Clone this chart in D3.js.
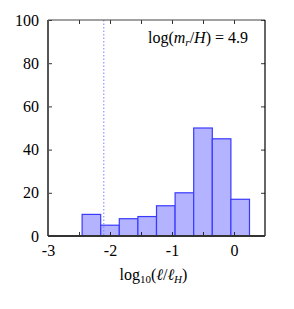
<!DOCTYPE html>
<html>
<head>
<meta charset="utf-8">
<script src="https://cdn.jsdelivr.net/npm/d3@7"></script>
<style>
  body { margin: 0; background: #fff; }
</style>
</head>
<body>
<div id="chart"></div>
<script>
// histogram of log10(l / l_H)
var binEdges = [-2.45, -2.15, -1.85, -1.55, -1.25, -0.95, -0.65, -0.35, -0.05, 0.25];
var counts = [10, 5, 8, 9, 14, 20, 50, 45, 17];
var markerX = -2.1;
var xTicks = [-3, -2.5, -2, -1.5, -1, -0.5, 0];
var xLabels = [-3, -2, -1, 0];
var yTicks = [0, 20, 40, 60, 80, 100];

var serif = "'Liberation Serif', 'Times New Roman', serif";

var margin = {top: 20, right: 29, bottom: 73, left: 48},
    width = 294 - margin.left - margin.right,
    height = 309 - margin.top - margin.bottom;

var x = d3.scaleLinear().domain([-3, 0.5]).range([0, width]);
var y = d3.scaleLinear().domain([0, 100]).range([height, 0]);

var svg = d3.select("#chart").append("svg")
    .attr("width", 294)
    .attr("height", 309)
  .append("g")
    .attr("transform", "translate(" + margin.left + "," + margin.top + ")");

var bins = counts.map(function(c, i) { return {x0: binEdges[i], x1: binEdges[i + 1], n: c}; });

svg.selectAll("rect.bar")
    .data(bins)
  .enter().append("rect")
    .attr("class", "bar")
    .attr("x", function(d) { return x(d.x0); })
    .attr("y", function(d) { return y(d.n); })
    .attr("width", function(d) { return x(d.x1) - x(d.x0); })
    .attr("height", function(d) { return y(0) - y(d.n); })
    .style("fill", "#b3b3ff")
    .style("stroke", "#3a3aff")
    .style("stroke-width", 1.2);

svg.append("line")
    .attr("x1", x(markerX)).attr("x2", x(markerX))
    .attr("y1", 0).attr("y2", height)
    .style("stroke", "#8080ff")
    .style("stroke-width", 1)
    .style("stroke-dasharray", "1.5,2");

// axes: ticks pointing inward on all four sides
var xBottom = d3.axisBottom(x).tickValues(xTicks).tickSizeInner(-4).tickSizeOuter(0)
    .tickFormat(function(d) { return xLabels.indexOf(d) >= 0 ? d : ""; }).tickPadding(9);
var xTop = d3.axisTop(x).tickValues(xTicks).tickSizeInner(-4).tickSizeOuter(0).tickFormat("");
var yLeft = d3.axisLeft(y).tickValues(yTicks).tickSizeInner(-4).tickSizeOuter(0).tickPadding(9);
var yRight = d3.axisRight(y).tickValues(yTicks).tickSizeInner(-4).tickSizeOuter(0).tickFormat("");

svg.append("g").attr("transform", "translate(0," + height + ")").call(xBottom);
svg.append("g").call(xTop);
svg.append("g").call(yLeft);
svg.append("g").attr("transform", "translate(" + width + ",0)").call(yRight);

svg.selectAll(".domain").remove();
svg.selectAll(".tick line").style("stroke", "#000").style("stroke-width", 0.8);
svg.selectAll(".tick text")
    .style("font-family", serif)
    .style("font-size", "16px")
    .text(function(d) { var t = d3.select(this).text(); return t.replace("−", "-"); });

// frame
svg.append("line").attr("x1", 0).attr("x2", width).attr("y1", 0).attr("y2", 0)
    .style("stroke", "#444").style("stroke-width", 1.2);
svg.append("line").attr("x1", width).attr("x2", width).attr("y1", 0).attr("y2", height)
    .style("stroke", "#000").style("stroke-width", 1.2);
svg.append("line").attr("x1", 0).attr("x2", 0).attr("y1", 0).attr("y2", height)
    .style("stroke", "#555").style("stroke-width", 2);
svg.append("line").attr("x1", 0).attr("x2", width).attr("y1", height).attr("y2", height)
    .style("stroke", "#333").style("stroke-width", 2);

// annotation
var ann = svg.append("text")
    .attr("x", width - 17).attr("y", 22.5)
    .attr("text-anchor", "end")
    .style("font-family", serif)
    .style("font-size", "16px");
ann.append("tspan").text("log(");
ann.append("tspan").style("font-style", "italic").text("m");
ann.append("tspan").attr("dy", 3).style("font-size", "11px").style("font-style", "italic").text("r");
ann.append("tspan").attr("dy", -3).text("/");
ann.append("tspan").style("font-style", "italic").text("H");
ann.append("tspan").text(") = 4.9");

// x axis title
var xt = svg.append("text")
    .attr("x", x(-1.3)).attr("y", height + 44)
    .attr("text-anchor", "middle")
    .style("font-family", serif)
    .style("font-size", "16px");
xt.append("tspan").text("log");
xt.append("tspan").attr("dy", 3).style("font-size", "11px").text("10");
xt.append("tspan").attr("dy", -3).text("(");
xt.append("tspan").style("font-style", "italic").text("ℓ");
xt.append("tspan").text("/");
xt.append("tspan").style("font-style", "italic").text("ℓ");
xt.append("tspan").attr("dy", 3).style("font-size", "11px").style("font-style", "italic").text("H");
xt.append("tspan").attr("dy", -3).text(")");
</script>
</body>
</html>
